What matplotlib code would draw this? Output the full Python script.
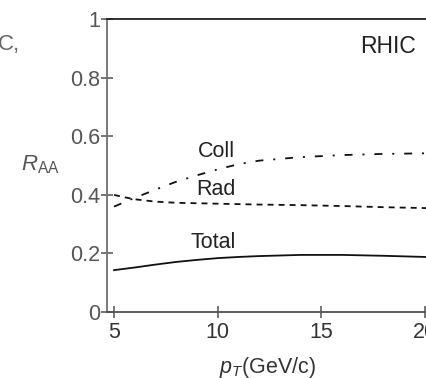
import matplotlib
matplotlib.use('Agg')
import matplotlib.pyplot as plt

plt.rcParams.update({
    "font.family": "Liberation Sans",
    "mathtext.fontset": "custom",
    "mathtext.rm": "Liberation Sans",
    "mathtext.it": "Liberation Sans:italic",
})

# R_AA vs p_T at RHIC
pt_coll = [5, 6, 7, 8, 9, 10, 11, 12, 14, 16, 18, 20, 20.5]
r_coll = [0.36, 0.39, 0.418, 0.445, 0.467, 0.487, 0.505, 0.517, 0.529, 0.536, 0.540, 0.542, 0.542]

pt_rad = [5, 5.5, 6, 7, 8, 10, 12, 14, 16, 18, 20, 20.5]
r_rad = [0.400, 0.392, 0.385, 0.377, 0.373, 0.370, 0.367, 0.365, 0.362, 0.358, 0.355, 0.354]

pt_total = [5, 6, 7, 8, 9, 10, 11, 12, 14, 16, 18, 20, 20.5]
r_total = [0.143, 0.152, 0.162, 0.171, 0.178, 0.184, 0.188, 0.191, 0.195, 0.195, 0.192, 0.188, 0.187]

xticks = [5, 10, 15, 20]
yticks = [0, 0.2, 0.4, 0.6, 0.8, 1]
ytick_labels = ['0', '0.2', '0.4', '0.6', '0.8', '1']

fig = plt.figure(figsize=(4.26, 3.78), dpi=100)
# axes runs past the right edge, the original picture is cropped there
ax = fig.add_axes([0.2512, 0.1746, 0.80, 0.7745])

lw = 1.3
ax.plot(pt_coll, r_coll, color='#111111', lw=lw, dashes=(4.4, 5.5, 1.1, 5.5))
ax.plot(pt_rad, r_rad, color='#111111', lw=lw, dashes=(3.3, 2.8))
ax.plot(pt_total, r_total, color='#111111', lw=lw)

ax.set_xlim(4.662, 21.1)
ax.set_ylim(0, 1)
ax.set_xticks(xticks)
ax.set_yticks(yticks)
ax.set_yticklabels(ytick_labels)

ax.spines['right'].set_visible(False)
ax.spines['top'].set_color('#222222')
ax.spines['top'].set_linewidth(1.3)
ax.spines['left'].set_color('#707070')
ax.spines['left'].set_linewidth(1.3)
ax.spines['bottom'].set_color('#505050')
ax.spines['bottom'].set_linewidth(1.3)

ax.tick_params(axis='both', direction='inout', length=8, width=1.1,
               color='#505050', labelcolor='#555555', labelsize=15.5)
ax.tick_params(axis='y', pad=1)
ax.tick_params(axis='x', pad=3, labelcolor='#333333')

txt = '#222222'
ax.text(9.95, 0.547, 'Coll', fontsize=15.5, color=txt, ha='center', va='center')
ax.text(9.9, 0.417, 'Rad', fontsize=15.5, color=txt, ha='center', va='center')
ax.text(9.76, 0.236, 'Total', fontsize=15.5, color=txt, ha='center', va='center')
ax.text(18.2, 0.906, 'RHIC', fontsize=16.5, color=txt, ha='center', va='center')

fig.text(0.094, 0.563, r'$R_{\rm AA}$', fontsize=16, color='#555555', ha='center', va='center')
fig.text(0.627, 0.029, r'$p_T$(GeV/c)', fontsize=15.5, color='#333333', ha='center', va='center')
fig.text(-0.004, 0.881, 'C,', fontsize=16, color='#666666', ha='left', va='center')

fig.savefig('out.png', dpi=100)
